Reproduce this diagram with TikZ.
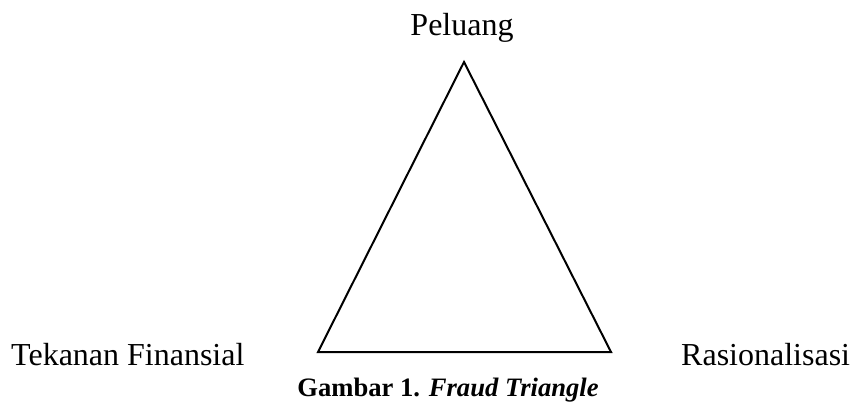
\documentclass[tikz,border=0pt]{standalone}
\usepackage{fontspec}
\setmainfont{Liberation Serif}
\begin{document}
\begin{tikzpicture}[x=1pt,y=-1pt,
  lbl/.style={inner sep=0pt,font=\fontsize{32}{38}\selectfont},
  captext/.style={inner sep=0pt,font=\fontsize{26.6}{32}\selectfont\bfseries},
  tri/.style={line width=2pt,line join=miter}]
\useasboundingbox (0,0) rectangle (853,403);
\coordinate (top) at (464,62);
\coordinate (bl) at (318,352);
\coordinate (br) at (611,352);
\draw[tri] (top) -- (bl) -- (br) -- cycle;
\node[lbl,anchor=base] (peluang) at (462,36) {Peluang};
\node[lbl,anchor=base west] (tekanan) at (11,365) {Tekanan Finansial};
\node[lbl,anchor=base west] (rasional) at (681,365) {Rasionalisasi};
\node[captext,anchor=base] (caption) at (448,396) {Gambar 1. \textit{Fraud Triangle}};
\end{tikzpicture}
\end{document}
